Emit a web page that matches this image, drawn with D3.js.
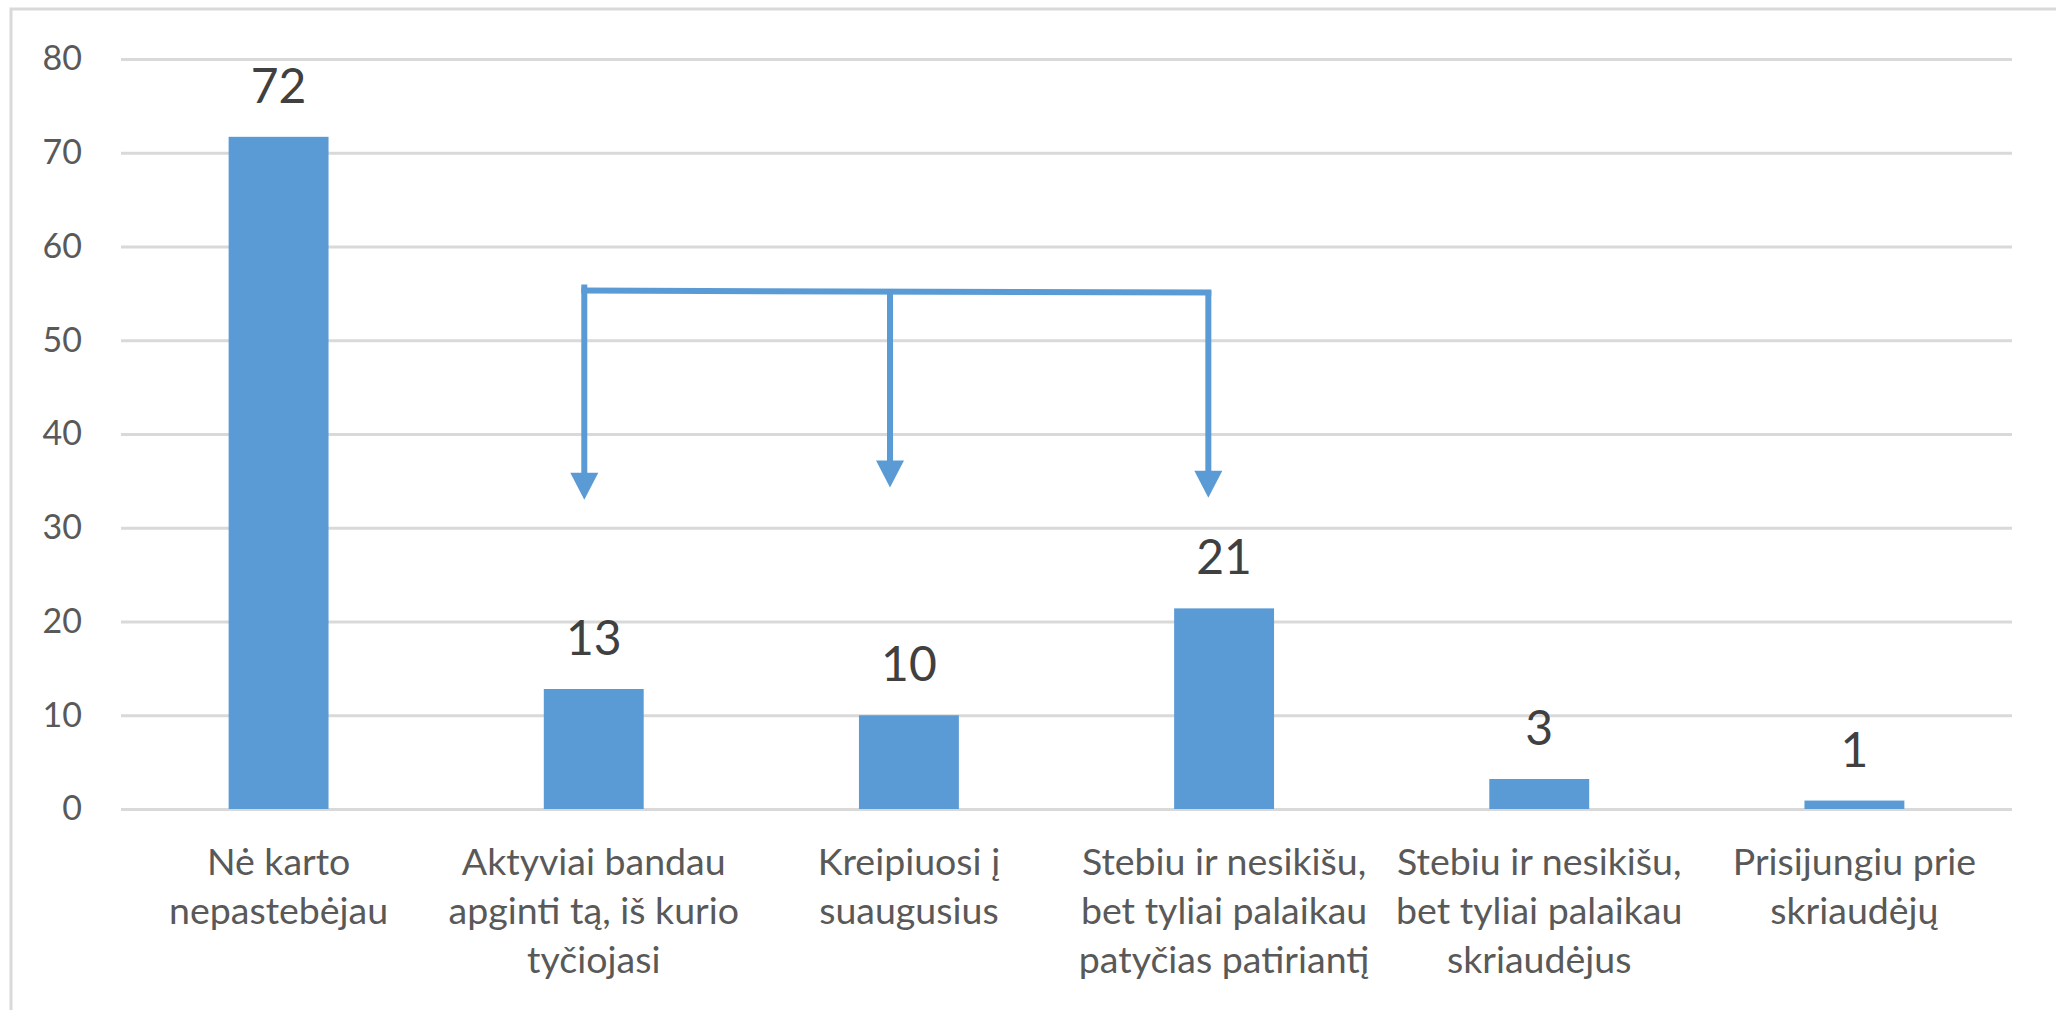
<!DOCTYPE html>
<html>
<head>
<meta charset="utf-8">
<script src="https://cdn.jsdelivr.net/npm/d3@7"></script>
<style>
  html, body { margin: 0; padding: 0; background: #fff; }
  #main { width: 2056px; height: 1010px; }
  text { font-family: Lato, "Noto Sans", sans-serif; }
</style>
</head>
<body>
<div id="main"></div>
<script>
/**
 * Chart data
 */
const categories = [
  "Nė karto\nnepastebėjau",
  "Aktyviai bandau\napginti tą, iš kurio\ntyčiojasi",
  "Kreipiuosi į\nsuaugusius",
  "Stebiu ir nesikišu,\nbet tyliai palaikau\npatyčias patiriantį",
  "Stebiu ir nesikišu,\nbet tyliai palaikau\nskriaudėjus",
  "Prisijungiu prie\nskriaudėjų"
];
const values = [71.7, 12.8, 10.0, 21.4, 3.2, 0.9];
const yTicks = [0, 10, 20, 30, 40, 50, 60, 70, 80];

// annotation: bracket with arrows pointing down to three answers
const arrowTargets = [categories[1], categories[2], categories[3]];
const arrowTipValues = [33.0, 34.3, 33.2];
const arrowBracketValue = 55.3;

const WIDTH = 2056;
const HEIGHT = 1010;
const PLOT = { left: 121, right: 2012, top: 59, bottom: 809 };
const ARROW_SHIFT = [-0.03, -0.06, -0.05]; // fraction of band step
const BLUE = "#5B9BD5";
const GRID = "#D9D9D9";

function getSvg() {
  return d3.select("#main")
    .append("svg")
    .attr("width", WIDTH)
    .attr("height", HEIGHT)
    .attr("viewBox", [0, 0, WIDTH, HEIGHT]);
}

function renderFrame(svg) {
  // only top and left edges of the chart box are visible
  svg.append("path")
    .attr("d", `M11,${HEIGHT} L11,9 L${WIDTH},9`)
    .attr("fill", "none")
    .attr("stroke", GRID)
    .attr("stroke-width", 3);
}

function renderYAxis(svg, y) {
  const g = svg.append("g")
    .attr("transform", `translate(${PLOT.left},0)`)
    .call(d3.axisLeft(y)
      .tickValues(yTicks)
      .tickSize(-(PLOT.right - PLOT.left))
      .tickPadding(39));

  g.select(".domain").remove();
  g.selectAll(".tick line")
    .attr("stroke", GRID)
    .attr("stroke-width", 3);
  g.selectAll(".tick text")
    .attr("fill", "#595959")
    .style("font-size", "34px");
}

function renderXLabels(svg, x) {
  const labels = svg.append("g")
    .selectAll("text")
    .data(categories)
    .join("text")
    .attr("text-anchor", "middle")
    .attr("fill", "#595959")
    .style("font-size", "37.5px")
    .attr("transform", d => `translate(${x(d) + x.bandwidth() / 2},875)`);

  labels.selectAll("tspan")
    .data(d => d.split("\n"))
    .join("tspan")
    .attr("x", 0)
    .attr("y", (d, i) => i * 49)
    .text(d => d);
}

function renderBars(svg, x, y) {
  svg.append("g")
    .selectAll("rect")
    .data(values)
    .join("rect")
    .attr("x", (d, i) => x(categories[i]))
    .attr("width", x.bandwidth())
    .attr("y", d => y(d))
    .attr("height", d => y(0) - y(d))
    .attr("fill", BLUE);

  svg.append("g")
    .selectAll("text")
    .data(values)
    .join("text")
    .attr("x", (d, i) => x(categories[i]) + x.bandwidth() / 2)
    .attr("y", d => y(d) - 34)
    .attr("text-anchor", "middle")
    .attr("fill", "#404040")
    .style("font-size", "48px")
    .text(d => d3.format(".0f")(d));
}

function renderArrows(svg, x, y) {
  const xs = arrowTargets.map((c, i) => x(c) + x.bandwidth() / 2 + ARROW_SHIFT[i] * x.step());
  const yTop = y(arrowBracketValue);
  const g = svg.append("g");

  g.append("line")
    .attr("x1", xs[0] - 3).attr("x2", xs[xs.length - 1] + 3)
    .attr("y1", yTop).attr("y2", yTop + 2)
    .attr("stroke", BLUE)
    .attr("stroke-width", 6);

  const head = { w: 28, h: 27 };
  xs.forEach((xp, i) => {
    const tip = y(arrowTipValues[i]);
    g.append("line")
      .attr("x1", xp).attr("x2", xp)
      .attr("y1", i === 0 ? yTop - 6 : yTop)
      .attr("y2", tip - head.h + 2)
      .attr("stroke", BLUE)
      .attr("stroke-width", 6);
    g.append("path")
      .attr("d", `M${xp - head.w / 2},${tip - head.h} L${xp + head.w / 2},${tip - head.h} L${xp},${tip} Z`)
      .attr("fill", BLUE);
  });
}

function startScripts() {
  const svg = getSvg();

  const x = d3.scaleBand()
    .domain(categories)
    .range([PLOT.left, PLOT.right])
    .paddingInner(0.683)
    .paddingOuter(0.3415);
  const y = d3.scaleLinear()
    .domain([0, 80])
    .range([PLOT.bottom, PLOT.top]);

  renderFrame(svg);
  renderYAxis(svg, y);
  renderBars(svg, x, y);
  renderXLabels(svg, x);
  renderArrows(svg, x, y);
}

startScripts();
</script>
</body>
</html>
